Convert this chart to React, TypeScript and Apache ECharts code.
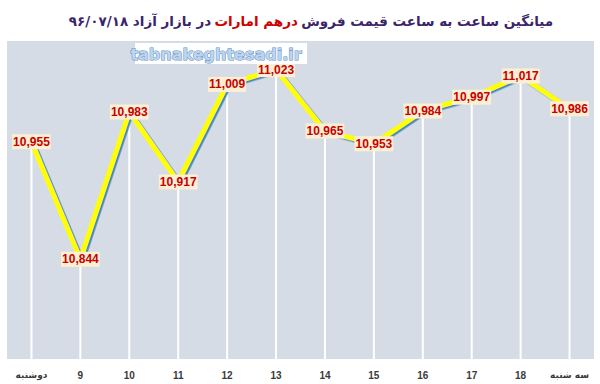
import React, { useEffect, useRef } from "react";
import * as echarts from "echarts";

const categories = ["دوشنبه", "9", "10", "11", "12", "13", "14", "15", "16", "17", "18", "سه شنبه"];
const prices = [10955, 10844, 10983, 10917, 11009, 11023, 10965, 10953, 10984, 10997, 11017, 10986];
const yMin = 10750;
const yMax = 11050;
const titleRight = "میانگین ساعت به ساعت قیمت فروش";
const titleRed = "درهم امارات";
const titleLeft = "در بازار آزاد ۹۶/۰۷/۱۸";
const watermark = "tabnakeghtesadi.ir";

export default function App() {
  const ref = useRef<HTMLDivElement>(null);
  useEffect(() => {
    if (!ref.current) return;
    const chart = echarts.init(ref.current, null, { renderer: "svg" });
    chart.setOption({
      animation: false,
      backgroundColor: "#ffffff",
      grid: {
        left: 7,
        right: 6,
        top: 41,
        bottom: 25,
        show: true,
        backgroundColor: "#D6DCE5",
        borderWidth: 0,
        containLabel: false,
      },
      xAxis: {
        type: "category",
        data: categories,
        boundaryGap: true,
        axisLine: { show: false },
        axisTick: { show: false },
        splitLine: { show: false },
        axisLabel: {
          interval: 0,
          color: "#3a3a3a",
          fontSize: 10,
          fontWeight: "bold",
          fontFamily: "DejaVu Sans",
          margin: 11,
          formatter: (v: string) => (/^\d+$/.test(v) ? `{n|${v}}` : `{w|${v}}`),
          rich: {
            n: { fontSize: 10, fontWeight: "bold", fontFamily: "Liberation Sans", color: "#3a3a3a" },
            w: { fontSize: 9, fontFamily: "DejaVu Sans", color: "#3a3a3a" },
          },
        },
      },
      yAxis: {
        type: "value",
        min: yMin,
        max: yMax,
        show: false,
        splitLine: { show: false },
      },
      series: [
        {
          type: "bar",
          data: prices,
          barWidth: 2,
          clip: true,
          itemStyle: { color: "#ffffff" },
          silent: true,
          z: 1,
        },
        {
          type: "line",
          data: prices,
          symbol: "circle",
          symbolSize: 1,
          showSymbol: true,
          itemStyle: { color: "rgba(0,0,0,0)" },
          z: 3,
          lineStyle: {
            color: "#FFFF00",
            width: 5,
            shadowColor: "rgba(60,130,185,0.95)",
            shadowOffsetX: 1.8,
            shadowOffsetY: 1.5,
            shadowBlur: 0,
          },
          label: {
            show: true,
            position: "inside",
            formatter: (p: any) => Number(p.value).toLocaleString("en-US"),
            color: "#C80000",
            fontSize: 12,
            fontWeight: "bold",
            fontFamily: "Liberation Sans",
            backgroundColor: "#FCEFD3",
            padding: [2, 1, 1, 1],
          },
        },
      ],
      graphic: [
        {
          type: "rect",
          shape: { x: 135, y: 43, width: 172, height: 21 },
          style: { fill: "#ffffff" },
          z: 10,
        },
        {
          type: "text",
          x: 216,
          y: 54,
          z: 11,
          style: {
            text: watermark,
            align: "center",
            verticalAlign: "middle",
            fontSize: 16,
            fontWeight: "bold",
            fontFamily: "DejaVu Sans",
            fill: "#bcd4ee",
            stroke: "#5f8fc4",
            lineWidth: 1,
          },
        },
        {
          type: "text",
          x: 311,
          y: 21,
          style: {
            text: `{a|${titleLeft}} {r|${titleRed}} {a|${titleRight}}`,
            align: "center",
            verticalAlign: "middle",
            rich: {
              a: { fontSize: 13.5, fontWeight: "bold", fontFamily: "DejaVu Sans", fill: "#3b2468", color: "#3b2468" },
              r: { fontSize: 13.5, fontWeight: "bold", fontFamily: "DejaVu Sans", fill: "#d00000", color: "#d00000" },
            },
          },
        },
      ],
    });
    return () => chart.dispose();
  }, []);
  return <div ref={ref} style={{ position: "fixed", left: 0, top: 0, width: 600, height: 384 }} />;
}
